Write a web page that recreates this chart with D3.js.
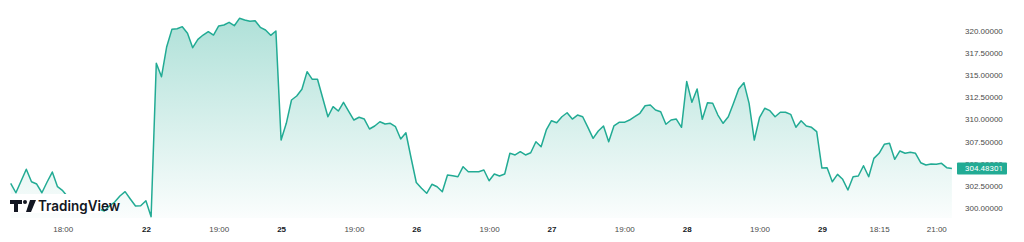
<!DOCTYPE html>
<meta charset="utf-8">
<style>
body { margin: 0; background: #fff; }
svg { display: block; font-family: Roboto, "Liberation Sans", Arial, sans-serif; }
.axis text { fill: #4a4a4a; font-size: 8px; }
.axis .day text { fill: #131722; font-weight: 700; }
</style>
<svg width="1024" height="242"></svg>
<script src="https://cdn.jsdelivr.net/npm/d3@7"></script>
<script>

// closing prices, one per bar (26 bars per day)
var prices = [
  302.81, 301.75, 303.07, 304.39, 302.99, 302.73, 301.75, 302.96, 304.08, 302.43,
  301.98, 301.27, 300.93, 300.60, 300.82, 300.37, 300.15, 299.92, 299.70, 300.26,
  300.71, 301.38, 301.87, 301.05, 300.26, 300.29, 300.85, 299.06, 316.31, 314.80,
  318.18, 320.13, 320.20, 320.43, 319.69, 318.07, 319.01, 319.49, 319.87, 319.49,
  320.51, 320.62, 320.92, 320.54, 321.37, 321.18, 321.03, 321.10, 320.36, 320.06,
  319.46, 319.94, 307.68, 309.56, 312.18, 312.63, 313.39, 315.37, 314.51, 314.51,
  312.41, 310.30, 311.43, 310.94, 311.92, 310.91, 309.93, 310.24, 310.04, 308.92,
  309.26, 309.74, 309.48, 309.56, 309.18, 307.80, 308.50, 305.66, 302.90, 302.25,
  301.69, 302.70, 302.43, 301.87, 303.75, 303.67, 303.55, 304.68, 304.12, 304.12,
  304.12, 304.31, 303.10, 303.86, 303.63, 303.86, 306.19, 306.00, 306.37, 306.00,
  306.25, 307.49, 306.93, 308.81, 309.85, 309.63, 310.30, 310.75, 310.04, 310.49,
  310.30, 309.11, 307.87, 308.70, 309.26, 307.49, 309.26, 309.67, 309.67, 309.93,
  310.30, 310.69, 311.54, 311.62, 311.06, 310.87, 309.45, 309.93, 310.04, 309.11,
  314.26, 311.92, 313.42, 310.01, 311.88, 311.81, 310.49, 309.56, 310.30, 311.81,
  313.42, 314.13, 311.81, 307.68, 310.19, 311.25, 310.98, 310.30, 310.80, 310.80,
  310.57, 309.11, 309.85, 309.26, 309.11, 308.62, 304.53, 304.57, 302.99, 303.82,
  303.26, 302.06, 303.55, 303.63, 304.79, 303.55, 305.62, 306.19, 307.20, 307.31,
  305.51, 306.45, 306.19, 306.30, 306.19, 305.13, 304.87, 304.98, 304.95, 305.06,
  304.57, 304.48301
];

// time axis labels and the bar index they sit on
var timeTicks = [10, 26, 40, 52, 66, 78, 92, 104, 118, 130, 144, 156, 167, 178];
var timeLabels = ["18:00", "22", "19:00", "25", "19:00", "26", "19:00", "27", "19:00", "28", "19:00", "29", "18:15", "21:00"];

var priceTicks = [300, 302.5, 305, 307.5, 310, 312.5, 315, 317.5, 320];
var lastPrice = 304.48301;

var svg = d3.select("svg"),
    paneRight = 954,
    paneBottom = 218;

var x = d3.scaleLinear().domain([0, prices.length - 1]).range([10.7, 951.9]);
var y = d3.scaleLinear().domain([300, 320]).range([208.3, 30.5]);

var defs = svg.append("defs");
var grad = defs.append("linearGradient")
    .attr("id", "fill")
    .attr("gradientUnits", "userSpaceOnUse")
    .attr("x1", 0).attr("x2", 0)
    .attr("y1", y(d3.max(prices))).attr("y2", paneBottom);
grad.append("stop").attr("offset", 0).attr("stop-color", "#22ab94").attr("stop-opacity", 0.36);
grad.append("stop").attr("offset", 1).attr("stop-color", "#22ab94").attr("stop-opacity", 0.02);

var area = d3.area()
    .x(function(d, i) { return x(i); })
    .y0(paneBottom)
    .y1(function(d) { return y(d); });

var line = d3.line()
    .x(function(d, i) { return x(i); })
    .y(function(d) { return y(d); });

svg.append("path")
    .datum(prices)
    .attr("fill", "url(#fill)")
    .attr("d", area);

svg.append("path")
    .datum(prices)
    .attr("fill", "none")
    .attr("stroke", "#22ab94")
    .attr("stroke-width", 1.5)
    .attr("stroke-linejoin", "round")
    .attr("d", line);

// time axis
var labelOf = {};
timeTicks.forEach(function(t, i) { labelOf[t] = timeLabels[i]; });

var xAxis = svg.append("g")
    .attr("class", "axis")
    .attr("transform", "translate(0," + paneBottom + ")")
    .call(d3.axisBottom(x)
        .tickValues(timeTicks)
        .tickFormat(function(d) { return labelOf[d]; })
        .tickSize(0)
        .tickPadding(8));
xAxis.select(".domain").remove();
xAxis.selectAll(".tick")
    .classed("day", function(d) { return labelOf[d].indexOf(":") < 0; });

// price axis
var yAxis = svg.append("g")
    .attr("class", "axis")
    .attr("transform", "translate(" + paneRight + ",0)")
    .call(d3.axisRight(y)
        .tickValues(priceTicks)
        .tickFormat(d3.format(".5f"))
        .tickSize(0)
        .tickPadding(11));
yAxis.select(".domain").remove();

// last price marker
var tag = svg.append("g").attr("transform", "translate(957," + y(lastPrice) + ")");
tag.append("rect")
    .attr("x", 0).attr("y", -6)
    .attr("width", 50).attr("height", 12)
    .attr("rx", 1)
    .attr("fill", "#22ab94");
tag.append("text")
    .attr("x", 8).attr("dy", "0.32em")
    .attr("fill", "#fff")
    .style("font-size", "8px")
    .text(lastPrice.toFixed(5));

// TradingView attribution
var logo = svg.append("g").attr("transform", "translate(8,194)");
logo.append("rect")
    .attr("width", 93).attr("height", 19)
    .attr("fill", "#fff");
logo.append("path")
    .attr("fill", "#131722")
    .attr("d", "M2,6h12v4h-4v8h-4v-8h-4z M22,6h6l-5,12h-5z");
logo.append("circle")
    .attr("cx", 17).attr("cy", 8).attr("r", 2)
    .attr("fill", "#131722");
logo.append("text")
    .attr("x", 30).attr("y", 17)
    .attr("fill", "#131722")
    .attr("textLength", 82)
    .attr("lengthAdjust", "spacingAndGlyphs")
    .style("font-family", "Inter, Roboto, sans-serif")
    .style("font-size", "14px")
    .style("font-weight", 600)
    .text("TradingView");

</script>
